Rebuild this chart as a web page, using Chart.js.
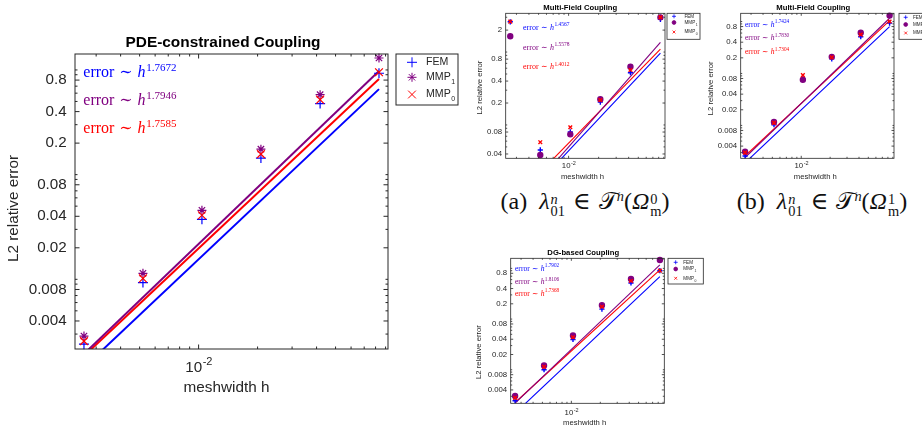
<!DOCTYPE html>
<html>
<head>
<meta charset="utf-8">
<script src="https://cdn.jsdelivr.net/npm/chart.js@4.4.0/dist/chart.umd.min.js"></script>
<style>
  body { margin: 0; background: #fff; width: 922px; height: 427px; position: relative; overflow: hidden; }
  canvas { position: absolute; }
  .cap { position: absolute; top: 184px; font-family: "Liberation Serif", "DejaVu Serif", serif; font-size: 24px; line-height: 24px; white-space: nowrap; transform: translateX(-50%); color: #111; }
  .ss { display: inline-flex; flex-direction: column; font-size: 0.6em; line-height: 12px; vertical-align: 4.8px; margin-left: 1px; }
  .up { font-size: 0.6em; vertical-align: 8px; }
  .gap { display: inline-block; width: 8px; }
  .wide { display: inline-block; width: 12px; }
</style>
</head>
<body>
<div class="cap" style="left:585px">(a)<span class="wide"></span><i>λ</i><span class="ss"><i>n</i><span>01</span></span><span class="gap"></span>∈<span class="gap"></span>𝒯<span class="up"><i>n</i></span>(<i>Ω</i><span class="ss"><span>0</span><span>m</span></span>)</div>
<div class="cap" style="left:822px">(b)<span class="wide"></span><i>λ</i><span class="ss"><i>n</i><span>01</span></span><span class="gap"></span>∈<span class="gap"></span>𝒯<span class="up"><i>n</i></span>(<i>Ω</i><span class="ss"><span>1</span><span>m</span></span>)</div>
<script>
// mesh widths of the six refinement levels, and the two ends of the fitted lines
const meshwidth = [0.0026, 0.0052, 0.0104, 0.0208, 0.0417, 0.0833]
const fitWidths = [0.0026, 0.0833]
const xRange = [0.00234, 0.0926]
const xTickLabels = [0.01]
const seriesNames = ['FEM', 'MMP_1', 'MMP_0']

// PDE-constrained coupling
const pdeFEM = [0.0024, 0.0093, 0.0374, 0.144, 0.477, 0.93]
const pdeMMP1 = [0.00287, 0.0114, 0.0456, 0.175, 0.58, 1.30]
const pdeMMP0 = [0.00257, 0.0102, 0.0409, 0.157, 0.52, 0.95]
const pdeFitFEM = [0.00144, 0.656]
const pdeFitMMP1 = [0.00194, 0.976]
const pdeFitMMP0 = [0.00185, 0.818]
const pdeRates = ['1.7672', '1.7946', '1.7585']
const pdeYTicks = [0.004, 0.008, 0.02, 0.04, 0.08, 0.2, 0.4, 0.8]
const pdeYRange = [0.00216, 1.42]

// Multi-field coupling, (a)
const mf0FEM = [2.6, 0.0454, 0.0805, 0.206, 0.52, 2.81]
const mf0MMP1 = [1.65, 0.0387, 0.0743, 0.225, 0.63, 2.99]
const mf0MMP0 = [2.62, 0.058, 0.093, 0.22, 0.567, 3.0]
const mf0FitFEM = [0.00622, 0.968]
const mf0FitMMP1 = [0.00613, 1.355]
const mf0FitMMP0 = [0.00854, 1.098]
const mf0Rates = ['1.4567', '1.5578', '1.4012']
const mf0YTicks = [0.04, 0.08, 0.2, 0.4, 0.8, 2]
const mf0YRange = [0.0349, 3.4]

// Multi-field coupling, (b)
const mf1FEM = [0.00258, 0.0103, 0.079, 0.191, 0.51, 0.93]
const mf1MMP1 = [0.00311, 0.0117, 0.0755, 0.209, 0.61, 1.30]
const mf1MMP0 = [0.0030, 0.0112, 0.093, 0.205, 0.558, 1.0]
const mf1FitFEM = [0.00191, 0.8]
const mf1FitMMP1 = [0.0024, 1.156]
const mf1FitMMP0 = [0.00258, 1.04]
const mf1Rates = ['1.7424', '1.7830', '1.7304']
const mf1YTicks = [0.004, 0.008, 0.02, 0.04, 0.08, 0.2, 0.4, 0.8]
const mf1YRange = [0.00233, 1.44]

// DG-based coupling
const dgFEM = [0.00245, 0.010, 0.0395, 0.157, 0.516, 0.90]
const dgMMP1 = [0.00304, 0.0122, 0.0473, 0.188, 0.62, 1.46]
const dgMMP0 = [0.00278, 0.0114, 0.0438, 0.175, 0.564, 0.90]
const dgFitFEM = [0.00139, 0.686]
const dgFitMMP1 = [0.0022, 1.167]
const dgFitMMP0 = [0.00226, 0.93]
const dgRates = ['1.7902', '1.8106', '1.7368']
const dgYTicks = [0.004, 0.008, 0.02, 0.04, 0.08, 0.2, 0.4, 0.8]
const dgYRange = [0.00218, 1.58]

const COLORS = ['#0000ff', '#800080', '#ff0000']
const AXIS = '#262626'
const SANS = '"Liberation Sans", Arial, Helvetica, sans-serif'
const SERIF = '"Liberation Serif", "DejaVu Serif", serif'

const small = {
  titleSize: 7.7, labelSize: 7.7, tickSize: 7.8, tickPad: 3.5, supSize: 5.5, supRise: 2.5,
  rateSize: 8, rateSup: 5.5, rateRise: 3.2,
  legendSize: 4.6, legendSub: 3.4, legendDrop: 2.4,
  mmp1Style: 'circle', radius: [2.6, 2.5, 2.6], legendRadius: [2, 1.9, 2], markerWidth: 1.4,
  fitWidth: 1.1, axisWidth: 0.8, tickMajor: 2.5, tickMinor: 1.5
}

const panels = [
  {
    box: [0, 0, 466, 427], plot: [75, 54, 388, 349],
    title: 'PDE-constrained Coupling', titleAt: [223, 42.7], titleSize: 15.4,
    xLabelAt: [226.5, 388], yLabelAt: [14, 208.5], labelSize: 15.3,
    tickSize: 15.2, tickPad: 8.3, xTickY: 368, supSize: 11, supRise: 6,
    yRange: pdeYRange, yTicks: pdeYTicks,
    values: [pdeFEM, pdeMMP1, pdeMMP0], fits: [pdeFitFEM, pdeFitMMP1, pdeFitMMP0], rates: pdeRates,
    rateX: 83.3, rateY: [77, 105.3, 133], rateSize: 16, rateSup: 11, rateRise: 6.5,
    legendBox: [396, 54, 62, 51], legendSymX: 412, legendTextX: 426, legendY: [62.3, 77.3, 94.5],
    legendSize: 10.6, legendSub: 7, legendDrop: 5,
    mmp1Style: 'star', radius: [5, 4.5, 5.5], legendRadius: [5, 4.5, 5.5], markerWidth: 1.2,
    fitWidth: 2, axisWidth: 1, tickMajor: 4.5, tickMinor: 2.5
  },
  Object.assign({}, small, {
    box: [470, 0, 232, 190], plot: [505.7, 13.3, 665, 158.3],
    title: 'Multi-Field Coupling', titleAt: [580.3, 8.3],
    xLabelAt: [582.5, 177], yLabelAt: [480, 87.5], xTickY: 166,
    yRange: mf0YRange, yTicks: mf0YTicks,
    values: [mf0FEM, mf0MMP1, mf0MMP0], fits: [mf0FitFEM, mf0FitMMP1, mf0FitMMP0], rates: mf0Rates,
    rateX: 523, rateY: [29.5, 49.5, 69],
    legendBox: [667, 13.3, 33, 26], legendSymX: 674, legendTextX: 684.5, legendY: [16.3, 22.5, 32]
  }),
  Object.assign({}, small, {
    box: [702, 0, 220, 190], plot: [740.7, 13.3, 894, 158.3],
    title: 'Multi-Field Coupling', titleAt: [813.3, 8.3],
    xLabelAt: [815.3, 177.3], yLabelAt: [710.7, 88.3], xTickY: 165.7,
    yRange: mf1YRange, yTicks: mf1YTicks,
    values: [mf1FEM, mf1MMP1, mf1MMP0], fits: [mf1FitFEM, mf1FitMMP1, mf1FitMMP0], rates: mf1Rates,
    rateX: 745, rateY: [26.5, 40, 54], rateSize: 7.6, rateSup: 5.2,
    legendBox: [899, 13.3, 40, 26], legendSymX: 905.7, legendTextX: 913, legendY: [17.3, 24.5, 33]
  }),
  Object.assign({}, small, {
    box: [470, 236, 240, 191], plot: [510.7, 258.3, 664.3, 403.3],
    title: 'DG-based Coupling', titleAt: [583.2, 252.7],
    xLabelAt: [584.7, 422.7], yLabelAt: [479.3, 352], xTickY: 412.7,
    yRange: dgYRange, yTicks: dgYTicks,
    values: [dgFEM, dgMMP1, dgMMP0], fits: [dgFitFEM, dgFitMMP1, dgFitMMP0], rates: dgRates,
    rateX: 515, rateY: [270.5, 284, 295.5], rateSize: 7.6, rateSup: 5.2,
    legendBox: [668, 258.3, 35.3, 25.7], legendSymX: 675.7, legendTextX: 683.3, legendY: [262.3, 269, 278.3]
  })
]

function logSteps (min, max) {
  const out = []
  for (let e = Math.floor(Math.log10(min)); e <= Math.ceil(Math.log10(max)); e++) {
    for (let k = 1; k <= 9; k++) {
      const v = k * Math.pow(10, e)
      if (v >= min && v <= max) out.push(v)
    }
  }
  return out
}

const near = (a, b) => Math.abs(Math.log10(a) - Math.log10(b)) < 1e-6

function styles (p) {
  return ['cross', p.mmp1Style, 'crossRot']
}

function drawFrame (chart, p) {
  const { ctx, chartArea: a, scales: { x, y } } = chart
  const bx = p.box[0]
  const by = p.box[1]
  ctx.save()

  // axes box with inward tick marks on all four sides
  ctx.strokeStyle = AXIS
  ctx.lineWidth = p.axisWidth
  ctx.strokeRect(a.left, a.top, a.right - a.left, a.bottom - a.top)
  ctx.beginPath()
  logSteps(x.min, x.max).forEach(v => {
    const len = xTickLabels.some(t => near(t, v)) ? p.tickMajor : p.tickMinor
    const px = x.getPixelForValue(v)
    ctx.moveTo(px, a.bottom); ctx.lineTo(px, a.bottom - len)
    ctx.moveTo(px, a.top); ctx.lineTo(px, a.top + len)
  })
  const minorY = logSteps(y.min, y.max).filter(v => !p.yTicks.some(t => near(t, v)))
  minorY.concat(p.yTicks).forEach((v, i) => {
    const len = i >= minorY.length ? p.tickMajor : p.tickMinor
    const py = y.getPixelForValue(v)
    ctx.moveTo(a.left, py); ctx.lineTo(a.left + len, py)
    ctx.moveTo(a.right, py); ctx.lineTo(a.right - len, py)
  })
  ctx.stroke()

  // x tick labels as powers of ten
  ctx.fillStyle = AXIS
  ctx.textBaseline = 'middle'
  ctx.textAlign = 'left'
  xTickLabels.forEach(v => {
    const px = x.getPixelForValue(v)
    const exp = String(Math.round(Math.log10(v)))
    ctx.font = `${p.tickSize}px ${SANS}`
    const w1 = ctx.measureText('10').width
    ctx.font = `${p.supSize}px ${SANS}`
    const w2 = ctx.measureText(exp).width
    const x0 = px - (w1 + w2) / 2
    ctx.font = `${p.tickSize}px ${SANS}`
    ctx.fillText('10', x0, p.xTickY - by)
    ctx.font = `${p.supSize}px ${SANS}`
    ctx.fillText(exp, x0 + w1 + 0.5, p.xTickY - by - p.supRise)
  })

  // axis titles and chart title
  ctx.textAlign = 'center'
  ctx.font = `${p.labelSize}px ${SANS}`
  ctx.fillText('meshwidth h', p.xLabelAt[0] - bx, p.xLabelAt[1] - by)
  ctx.save()
  ctx.translate(p.yLabelAt[0] - bx, p.yLabelAt[1] - by)
  ctx.rotate(-Math.PI / 2)
  ctx.fillText('L2 relative error', 0, 0)
  ctx.restore()
  ctx.fillStyle = '#000'
  ctx.font = `bold ${p.titleSize}px ${SANS}`
  ctx.fillText(p.title, p.titleAt[0] - bx, p.titleAt[1] - by)

  // convergence rates
  ctx.textAlign = 'left'
  ctx.textBaseline = 'alphabetic'
  p.rates.forEach((rate, i) => {
    let tx = p.rateX - bx
    const ty = p.rateY[i] - by
    ctx.fillStyle = COLORS[i]
    ctx.font = `${p.rateSize}px ${SERIF}`
    ctx.fillText('error', tx, ty)
    tx += ctx.measureText('error').width + p.rateSize * 0.3
    ctx.fillText('∼', tx, ty)
    tx += ctx.measureText('∼').width + p.rateSize * 0.3
    ctx.font = `italic ${p.rateSize}px ${SERIF}`
    ctx.fillText('h', tx, ty)
    tx += ctx.measureText('h').width + p.rateSize * 0.05
    ctx.font = `${p.rateSup}px ${SERIF}`
    ctx.fillText(rate, tx, ty - p.rateRise)
  })

  // legend
  const [lx, ly, lw, lh] = p.legendBox
  ctx.fillStyle = '#fff'
  ctx.fillRect(lx - bx, ly - by, lw, lh)
  ctx.strokeStyle = AXIS
  ctx.lineWidth = p.axisWidth
  ctx.strokeRect(lx - bx, ly - by, lw, lh)
  ctx.textBaseline = 'middle'
  seriesNames.forEach((name, i) => {
    const sy = p.legendY[i] - by
    ctx.strokeStyle = COLORS[i]
    ctx.fillStyle = COLORS[i]
    Chart.helpers.drawPoint(ctx, {
      pointStyle: styles(p)[i], rotation: 0, radius: p.legendRadius[i], borderWidth: p.markerWidth
    }, p.legendSymX - bx, sy)
    const [main, sub] = name.split('_')
    ctx.fillStyle = AXIS
    ctx.font = `${p.legendSize}px ${SANS}`
    ctx.fillText(main, p.legendTextX - bx, sy)
    if (sub) {
      const w = ctx.measureText(main).width
      ctx.font = `${p.legendSub}px ${SANS}`
      ctx.fillText(sub, p.legendTextX - bx + w + 0.5, sy + p.legendDrop)
    }
  })
  ctx.restore()
}

function makeChart (p) {
  const [bx, by, bw, bh] = p.box
  const [l, t, r, b] = p.plot
  const canvas = document.createElement('canvas')
  canvas.width = bw
  canvas.height = bh
  canvas.style.left = bx + 'px'
  canvas.style.top = by + 'px'
  canvas.style.width = bw + 'px'
  canvas.style.height = bh + 'px'
  document.body.appendChild(canvas)

  const datasets = []
  seriesNames.forEach((name, i) => {
    datasets.push({
      label: name,
      data: meshwidth.map((h, k) => ({ x: h, y: p.values[i][k] })),
      showLine: false,
      pointStyle: styles(p)[i],
      pointRadius: p.radius[i],
      pointBorderWidth: p.markerWidth,
      pointBorderColor: COLORS[i],
      pointBackgroundColor: COLORS[i],
      clip: false,
      order: 3 - i
    })
    datasets.push({
      label: name + ' fit',
      data: fitWidths.map((h, k) => ({ x: h, y: p.fits[i][k] })),
      showLine: true,
      pointRadius: 0,
      borderColor: COLORS[i],
      borderWidth: p.fitWidth,
      order: 10 + i
    })
  })

  return new Chart(canvas, {
    type: 'scatter',
    data: { datasets },
    options: {
      responsive: false,
      animation: false,
      events: [],
      layout: { padding: { left: 0, top: t - by, right: bx + bw - r, bottom: 0 } },
      plugins: { legend: { display: false }, tooltip: { enabled: false }, title: { display: false } },
      scales: {
        x: {
          type: 'logarithmic',
          min: xRange[0],
          max: xRange[1],
          grid: { display: false, drawTicks: false },
          border: { display: false },
          ticks: { display: false },
          afterBuildTicks: s => { s.ticks = xTickLabels.map(v => ({ value: v })) },
          afterFit: s => { s.height = by + bh - b }
        },
        y: {
          type: 'logarithmic',
          min: p.yRange[0],
          max: p.yRange[1],
          grid: { display: false, drawTicks: false },
          border: { display: false },
          ticks: {
            autoSkip: false,
            padding: p.tickPad,
            color: AXIS,
            font: { family: SANS, size: p.tickSize },
            callback: v => String(v)
          },
          afterBuildTicks: s => { s.ticks = p.yTicks.map(v => ({ value: v })) },
          afterFit: s => { s.width = l - bx }
        }
      }
    },
    plugins: [{ id: 'frame', afterDatasetsDraw: chart => drawFrame(chart, p) }]
  })
}

panels.forEach(makeChart)
</script>
</body>
</html>
